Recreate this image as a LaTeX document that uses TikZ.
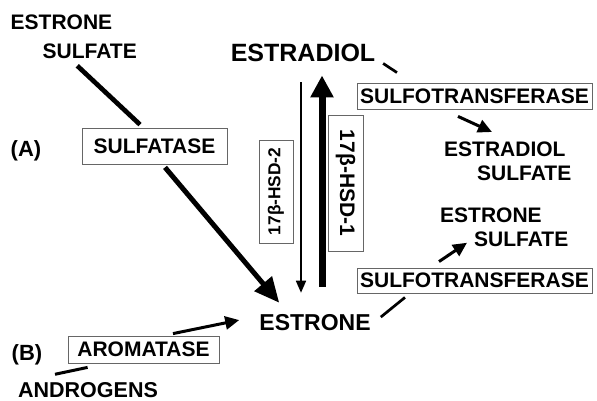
\documentclass[tikz,border=0pt]{standalone}
\usepackage{fontspec}
\setmainfont{Liberation Sans}[BoldFont={* Bold}]
\usetikzlibrary{arrows.meta,calc}
\tikzstyle{txt}=[inner sep=2pt,font=\bfseries\fontsize{21}{24}\selectfont]
\tikzstyle{enz}=[draw=black!60,line width=.8pt,inner sep=0pt,font=\bfseries\fontsize{21}{24}\selectfont]
\tikzstyle{big}=[line width=5pt,-{Triangle[length=25pt,width=22pt]}]
\tikzstyle{sm}=[line width=3pt,-{Triangle[length=14pt,width=13pt]}]

\begin{document}
\begin{tikzpicture}[x=1pt,y=1pt]
\useasboundingbox (0,0) rectangle (597,401);
\node[txt,inner sep=0pt,anchor=north west,align=left,font=\bfseries\fontsize{21}{29}\selectfont] (es1) at (10.5,386) {ESTRONE\\\hspace*{32pt}SULFATE};
\node[txt,anchor=base,font=\bfseries\fontsize{22}{24}\selectfont] (a) at (26,244) {(A)};
\node[txt,anchor=base,font=\bfseries\fontsize{22}{24}\selectfont] (b) at (27,40) {(B)};
\node[txt,anchor=base,font=\bfseries\fontsize{21.5}{24}\selectfont] (andr) at (88,3.5) {ANDROGENS};
\node[txt,anchor=base,font=\bfseries\fontsize{25}{28}\selectfont] (estradiol) at (303,339) {ESTRADIOL};
\node[txt,anchor=base,font=\bfseries\fontsize{23}{26}\selectfont] (estrone) at (315,70) {ESTRONE};
\node[txt,inner sep=0pt,anchor=north west,align=left] (esdsulf) at (444,259) {ESTRADIOL\\\hspace*{33pt}SULFATE};
\node[txt,inner sep=0pt,anchor=north west,align=left] (esnsulf) at (440,193) {ESTRONE\\\hspace*{34pt}SULFATE};

\node[enz,minimum width=145pt,minimum height=36pt] (sulfatase) at (154.5,255) {SULFATASE};
\node[enz,minimum width=235pt,minimum height=26pt] (sulfo1) at (474.5,305) {SULFOTRANSFERASE};
\node[enz,minimum width=235pt,minimum height=25pt] (sulfo2) at (474.5,120.5) {SULFOTRANSFERASE};
\node[enz,minimum width=151pt,minimum height=27pt] (arom) at (143.5,51.5) {AROMATASE};
\node[enz,rotate=90,minimum width=103pt,minimum height=34pt,font=\bfseries\fontsize{17.3}{20}\selectfont] (hsd2) at (276,209.5) {17β-HSD-2};
\node[enz,rotate=-90,minimum width=136pt,minimum height=35pt] (hsd1) at (345.5,218) {17β-HSD-1};

\draw[line width=4.7pt] ($(es1.south)+(3.5,-6.5)$) -- ($(sulfatase.north)+(-14.5,3)$);
\draw[big] ($(sulfatase.south)+(10.5,-3)$) -- ($(estrone.north west)+(22,10)$);
\draw[line width=1.7pt,-{Triangle[length=12pt,width=10pt]}] ($(estradiol.south)+(-2,-18)$) -- ($(estrone.north)+(-14,20)$);
\draw[line width=7pt,-{Triangle[length=22pt,width=22pt]}] ($(estrone.north)+(7,26)$) -- ($(estradiol.south)+(19,-11)$);
\draw[line width=2.7pt] ($(estradiol.south east)+(5.7,1)$) -- ($(sulfo1.north)+(-77.5,10)$);
\draw[sm] ($(sulfo1.south)+(-16.5,-7)$) -- ($(esdsulf.north west)+(48,10)$);
\draw[sm] ($(sulfo2.north)+(-35.5,6)$) -- ($(esnsulf.south west)+(27,4.5)$);
\draw[line width=2.7pt] ($(sulfo2.south)+(-69.5,-4)$) -- ($(estrone.east)+(8,6)$);
\draw[line width=3pt] ($(andr.north)+(-33,6)$) -- ($(arom.south west)+(20,-4)$);
\draw[sm] ($(arom.north)+(29.5,2)$) -- ($(estrone.west)+(-18,3)$);
\end{tikzpicture}
\end{document}
